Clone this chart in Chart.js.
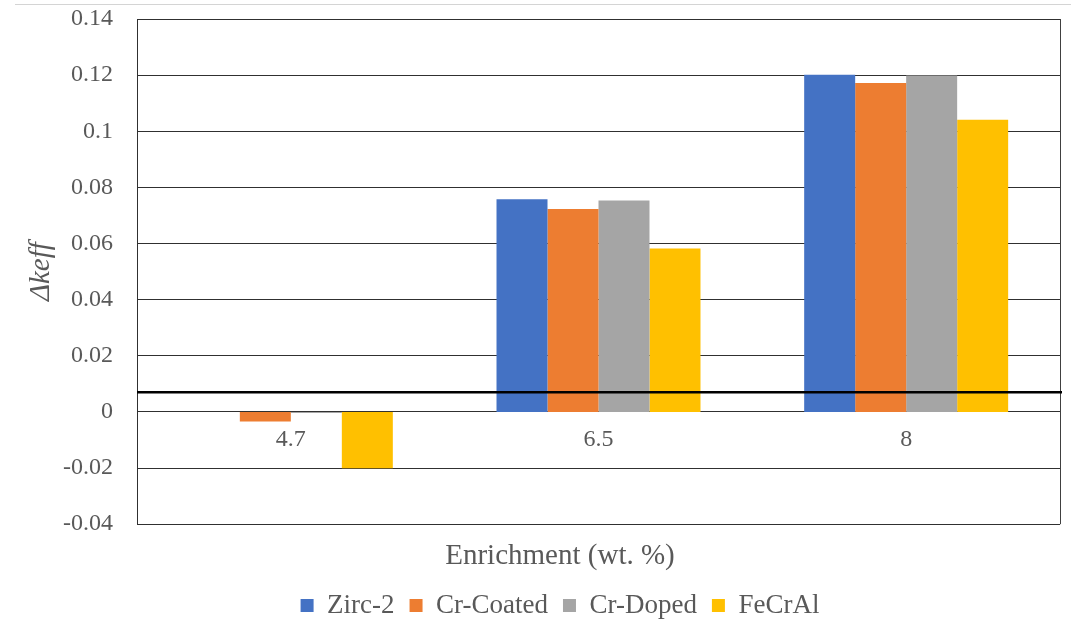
<!DOCTYPE html>
<html>
<head>
<meta charset="utf-8">
<script src="https://cdn.jsdelivr.net/npm/chart.js@4"></script>
<style>
  html, body { margin: 0; padding: 0; background: #fff; }
  #wrap { position: relative; width: 1071px; height: 619px; }
  #topline { position: absolute; left: 15px; right: 0; top: 4px; height: 0; border-top: 1px solid #d4d4d4; }
</style>
</head>
<body>
<div id="wrap">
  <div id="topline"></div>
  <canvas id="c"></canvas>
</div>
<script>
// ---- data ----
const categories = ['4.7', '6.5', '8'];
const seriesNames = ['Zirc-2', 'Cr-Coated', 'Cr-Doped', 'FeCrAl'];
const zirc2 = [0, 0.0758, 0.1201];
const crCoated = [-0.0034, 0.0723, 0.1172];
const crDoped = [-0.0004, 0.0753, 0.1199];
const fecral = [-0.0201, 0.0582, 0.1041];
const thresholdLine = [0.007];
const yMin = -0.04, yMax = 0.14, yStep = 0.02;
const yTitle = 'Δkeff';
const xTitle = 'Enrichment (wt. %)';

const colors = ['#4472C4', '#ED7D31', '#A5A5A5', '#FFC000'];
const FONT = "'Liberation Serif', 'Times New Roman', serif";
const TXT = '#595959';

const framePlugin = {
  id: 'framePlugin',
  afterDatasetsDraw(chart) {
    const {ctx, chartArea: a, scales} = chart;
    ctx.save();
    ctx.strokeStyle = '#404040';
    ctx.lineWidth = 1;
    ctx.beginPath();
    ctx.moveTo(Math.round(a.right) + 0.5, a.top);
    ctx.lineTo(Math.round(a.right) + 0.5, a.bottom);
    ctx.stroke();
    thresholdLine.forEach(v => {
      const y = scales.y.getPixelForValue(v);
      ctx.strokeStyle = '#000';
      ctx.lineWidth = 2.5;
      ctx.beginPath();
      ctx.moveTo(a.left, y);
      ctx.lineTo(a.right + 2, y);
      ctx.stroke();
    });
    ctx.restore();
  }
};

const datasets = [zirc2, crCoated, crDoped, fecral].map((d, i) => ({
  label: seriesNames[i],
  data: d,
  backgroundColor: colors[i],
  borderWidth: 0,
  categoryPercentage: 0.663,
  barPercentage: 1.0
}));

new Chart(document.getElementById('c'), {
  type: 'bar',
  data: { labels: categories, datasets },
  plugins: [framePlugin],
  options: {
    responsive: true,
    maintainAspectRatio: false,
    animation: false,
    layout: { padding: { top: 19, right: 11, left: 60, bottom: -10 } },
    plugins: {
      tooltip: { enabled: false },
      legend: {
        position: 'bottom',
        align: 'center',
        labels: {
          boxWidth: 13,
          boxHeight: 13,
          padding: 15,
          color: TXT,
          font: { family: FONT, size: 27 }
        },
        title: {
          display: true,
          text: xTitle,
          color: TXT,
          position: 'center',
          font: { family: FONT, size: 29 },
          padding: { top: 18, bottom: 0 }
        }
      }
    },
    scales: {
      x: {
        position: { y: 0 },
        grid: { display: false, drawTicks: false },
        border: { display: false },
        ticks: { color: TXT, font: { family: FONT, size: 24 }, padding: 13, maxRotation: 0 }
      },
      y: {
        min: yMin,
        max: yMax,
        ticks: {
          stepSize: yStep,
          color: TXT,
          padding: 24,
          font: { family: FONT, size: 24 },
          callback: v => String(Number(v.toFixed(2)))
        },
        grid: { color: '#303030', lineWidth: 1, drawTicks: false },
        border: { display: true, color: '#303030', width: 1 },
        title: {
          display: true,
          text: yTitle,
          color: TXT,
          font: { family: FONT, size: 29, style: 'italic' },
          padding: { top: -36, bottom: 0 }
        },
        afterFit(scale) {
          scale.width = 77;
          scale.paddingTop = 0;
          scale.paddingBottom = 0;
        }
      }
    }
  }
});
</script>
</body>
</html>
